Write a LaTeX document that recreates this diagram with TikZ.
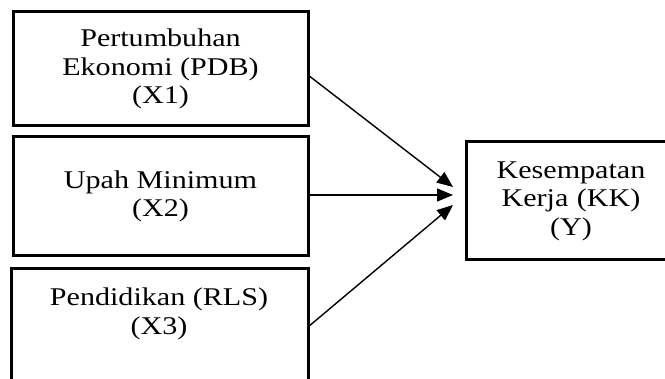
\documentclass[tikz,border=0pt]{standalone}
\usepackage{fontspec}
\setmainfont{Liberation Serif}[FakeStretch=1.18]
\usetikzlibrary{arrows.meta}
\begin{document}
\begin{tikzpicture}[x=1pt,y=-1pt,
  box/.style={draw=black,line width=3pt,rectangle,inner sep=0pt,align=center,
    font=\fontsize{25.5}{28.5}\selectfont},
  lbl/.style={align=center,inner sep=0pt,font=\fontsize{25.5}{28.5}\selectfont},
  conn/.style={line width=1.4pt,-{Triangle[length=16pt,width=13pt]}}]
\useasboundingbox (0,0) rectangle (665,379);
\clip (0,0) rectangle (665,379);
\fill[white] (0,0) rectangle (665,379);
\node[box,minimum width=295pt,minimum height=114pt] (b1) at (160.5,69) {Pertumbuhan\\Ekonomi (PDB)\\(X1)};
\node[box,minimum width=295pt,minimum height=119pt] (b2) at (160.5,196.5) {Upah Minimum\\(X2)};
\node[box,minimum width=297pt,minimum height=151pt] (b3) at (159.5,344.5) {};
\node[lbl] (t3) at (159,314) {Pendidikan (RLS)\\(X3)};
\node[box,minimum width=224pt,minimum height=118pt,text width=224pt] (y) at (578,201) {\hspace*{-14pt}Kesempatan\\\hspace*{-14pt}Kerja (KK)\\\hspace*{-14pt}(Y)};
\coordinate (s1) at (308,75);
\coordinate (s2) at (308,195);
\coordinate (s3) at (308,327);
\coordinate (e1) at (453,187);
\coordinate (e2) at (453,195);
\coordinate (e3) at (453,205);
\draw[conn] (s1) -- (e1);
\draw[conn] (s2) -- (e2);
\draw[conn] (s3) -- (e3);
\end{tikzpicture}
\end{document}
